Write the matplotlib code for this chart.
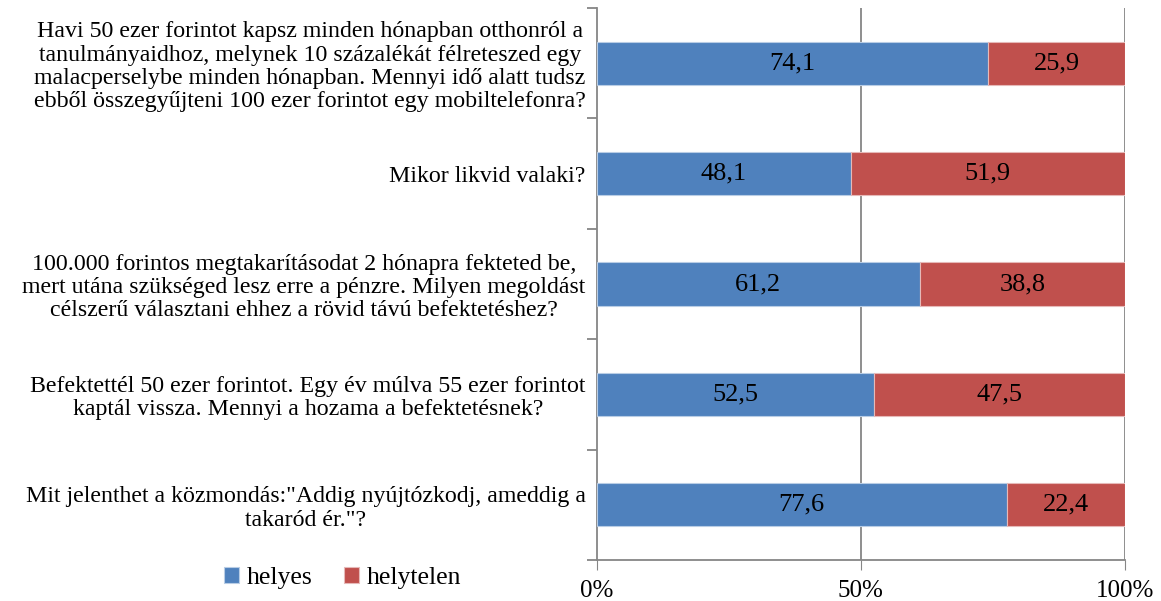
import numpy as np
import matplotlib.pyplot as plt

plt.rcParams['font.family'] = ['Liberation Serif', 'DejaVu Serif']

questions = [
    "Havi 50 ezer forintot kapsz minden hónapban otthonról a\n"
    "tanulmányaidhoz, melynek 10 százalékát félreteszed egy\n"
    "malacperselybe minden hónapban. Mennyi idő alatt tudsz\n"
    "ebből összegyűjteni 100 ezer forintot egy mobiltelefonra?",
    "Mikor likvid valaki?",
    "100.000 forintos megtakarításodat 2 hónapra fekteted be,\n"
    "mert utána szükséged lesz erre a pénzre. Milyen megoldást\n"
    "célszerű választani ehhez a rövid távú befektetéshez?",
    "Befektettél 50 ezer forintot. Egy év múlva 55 ezer forintot\n"
    "kaptál vissza. Mennyi a hozama a befektetésnek?",
    "Mit jelenthet a közmondás:\"Addig nyújtózkodj, ameddig a\n"
    "takaród ér.\"?",
]
helyes = [74.1, 48.1, 61.2, 52.5, 77.6]
helytelen = [25.9, 51.9, 38.8, 47.5, 22.4]
xticks = [0, 50, 100]
xlabels = ["0%", "50%", "100%"]

blue = "#4F81BD"
red = "#C0504D"
gray = "#868686"

fig = plt.figure(figsize=(11.61, 6.01), dpi=100)
ax = fig.add_axes([0.514, 0.068, 0.455, 0.919])

y = np.arange(len(questions))
b1 = ax.barh(y, helyes, height=0.39, color=blue, edgecolor="#B9CDE5", linewidth=0.8, label="helyes", zorder=3)
b2 = ax.barh(y, helytelen, left=helyes, height=0.39, color=red, edgecolor="#E6B9B8", linewidth=0.8, label="helytelen", zorder=3)

for bars, vals in ((b1, helyes), (b2, helytelen)):
    for rect, v in zip(bars, vals):
        ax.text(rect.get_x() + rect.get_width() / 2, rect.get_y() + rect.get_height() / 2,
                f"{v:.1f}".replace(".", ","), ha="center", va="center", fontsize=19, zorder=4)

ax.set_xlim(0, 100)
ax.set_ylim(len(questions) - 0.5, -0.5)

ax.set_xticks(xticks)
ax.set_xticklabels(xlabels, fontsize=18)
ax.tick_params(axis="x", direction="out", length=7, color=gray, pad=7)
for xv in xticks[1:]:
    ax.axvline(xv, color=gray, linewidth=1.3, zorder=1)

ax.set_yticks(y)
ax.set_yticklabels(questions, fontsize=17.2, multialignment="center", linespacing=1.14)
ax.tick_params(axis="y", length=0, pad=8)
ax.set_yticks(np.arange(-0.5, len(questions), 1), minor=True)
ax.tick_params(axis="y", which="minor", direction="out", length=7, color=gray, width=1.3)

for side in ("top", "right"):
    ax.spines[side].set_visible(False)
for side in ("left", "bottom"):
    ax.spines[side].set_color(gray)
    ax.spines[side].set_linewidth(1.3)

fig.legend(handles=[b1, b2], loc="center", bbox_to_anchor=(0.295, 0.038), ncol=2, frameon=False,
           fontsize=18.5, handlelength=0.6, handleheight=0.6, handletextpad=0.3, columnspacing=1.2)

fig.savefig("out.png", dpi=100)
